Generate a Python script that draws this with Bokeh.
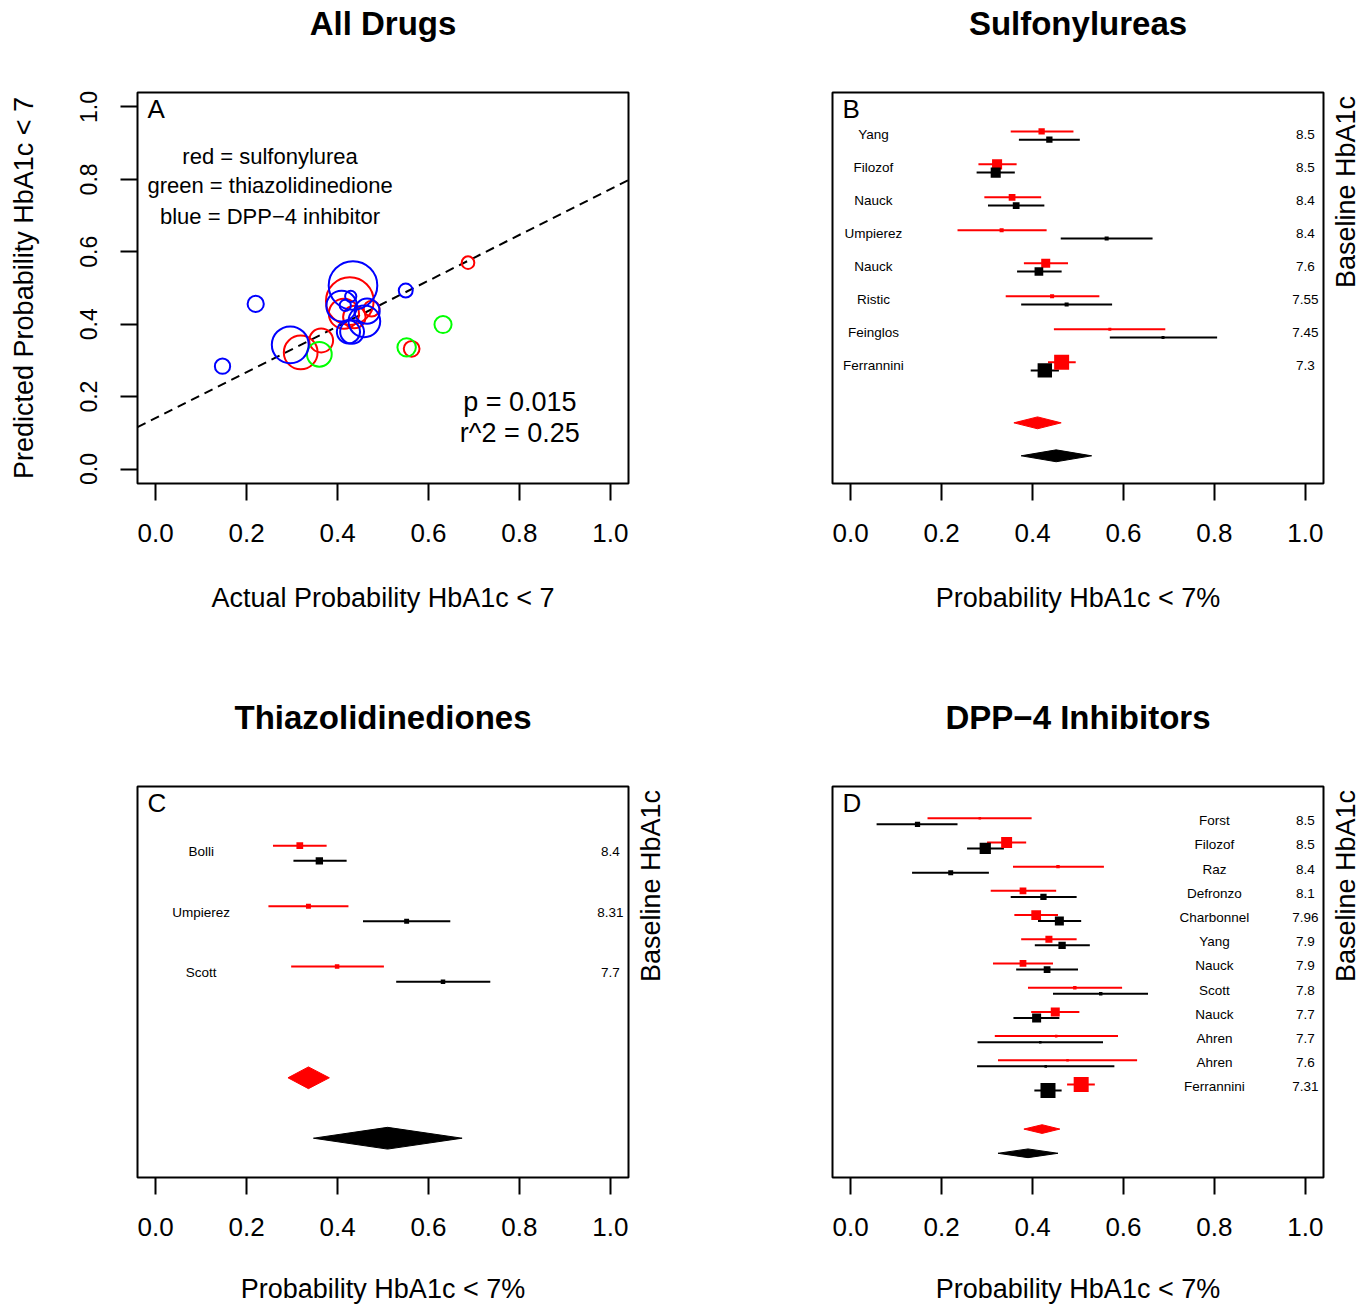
import math
from bokeh.plotting import figure
from bokeh.models import Range1d, FixedTicker, Label, Title
from bokeh.layouts import column, row
from bokeh.embed import file_html
from bokeh.resources import INLINE
from bokeh.core.properties import value

FONT = "Liberation Sans"
MINUS = "\u2212"

# ---------------- data ----------------
x_ticks = [0.0, 0.2, 0.4, 0.6, 0.8, 1.0]
x_tick_labels = ["0.0", "0.2", "0.4", "0.6", "0.8", "1.0"]
y_ticks = [0.0, 0.2, 0.4, 0.6, 0.8, 1.0]
y_tick_labels = ["0.0", "0.2", "0.4", "0.6", "0.8", "1.0"]

panel_titles = ["All Drugs", "Sulfonylureas", "Thiazolidinediones", "DPP" + MINUS + "4 Inhibitors"]

# Sulfonylureas
sulf_names = ["Yang", "Filozof", "Nauck", "Umpierez", "Nauck", "Ristic", "Feinglos", "Ferrannini"]
sulf_baseline = ["8.5", "8.5", "8.4", "8.4", "7.6", "7.55", "7.45", "7.3"]
sulf_pred = [0.420, 0.322, 0.355, 0.332, 0.429, 0.443, 0.570, 0.464]
sulf_pred_lo = [0.352, 0.281, 0.294, 0.235, 0.381, 0.341, 0.447, 0.434]
sulf_pred_hi = [0.490, 0.365, 0.419, 0.431, 0.478, 0.547, 0.692, 0.495]
sulf_act = [0.437, 0.319, 0.364, 0.563, 0.414, 0.475, 0.687, 0.427]
sulf_act_lo = [0.370, 0.277, 0.302, 0.462, 0.366, 0.375, 0.570, 0.396]
sulf_act_hi = [0.504, 0.361, 0.426, 0.664, 0.464, 0.575, 0.806, 0.458]
sulf_pred_w = [0.42, 0.67, 0.45, 0.27, 0.60, 0.27, 0.20, 1.00]
sulf_act_w = [0.42, 0.67, 0.45, 0.27, 0.58, 0.27, 0.20, 0.96]
sulf_pool_pred = [0.411, 0.359, 0.463]
sulf_pool_act = [0.452, 0.375, 0.530]

# Thiazolidinediones
tzd_names = ["Bolli", "Umpierez", "Scott"]
tzd_baseline = ["8.4", "8.31", "7.7"]
tzd_pred = [0.317, 0.336, 0.399]
tzd_pred_lo = [0.258, 0.248, 0.298]
tzd_pred_hi = [0.376, 0.424, 0.502]
tzd_act = [0.360, 0.552, 0.632]
tzd_act_lo = [0.303, 0.456, 0.529]
tzd_act_hi = [0.420, 0.648, 0.736]
tzd_pred_w = [0.45, 0.33, 0.30]
tzd_act_w = [0.49, 0.33, 0.30]
tzd_pool_pred = [0.336, 0.291, 0.382]
tzd_pool_act = [0.510, 0.347, 0.674]

# DPP-4 inhibitors
dpp_names = ["Forst", "Filozof", "Raz", "Defronzo", "Charbonnel", "Yang", "Nauck",
             "Scott", "Nauck", "Ahren", "Ahren", "Ferrannini"]
dpp_baseline = ["8.5", "8.5", "8.4", "8.1", "7.96", "7.9", "7.9", "7.8", "7.7", "7.7", "7.6", "7.31"]
dpp_pred = [0.284, 0.343, 0.456, 0.379, 0.408, 0.436, 0.379, 0.493, 0.450, 0.452, 0.477, 0.507]
dpp_pred_lo = [0.169, 0.300, 0.357, 0.308, 0.360, 0.375, 0.313, 0.390, 0.397, 0.317, 0.324, 0.476]
dpp_pred_hi = [0.398, 0.386, 0.557, 0.452, 0.456, 0.497, 0.445, 0.597, 0.503, 0.588, 0.630, 0.537]
dpp_act = [0.147, 0.296, 0.220, 0.424, 0.459, 0.465, 0.432, 0.550, 0.409, 0.417, 0.429, 0.434]
dpp_act_lo = [0.057, 0.256, 0.135, 0.352, 0.412, 0.405, 0.364, 0.445, 0.358, 0.279, 0.278, 0.404]
dpp_act_hi = [0.235, 0.337, 0.304, 0.497, 0.507, 0.526, 0.500, 0.654, 0.459, 0.555, 0.580, 0.464]
dpp_pred_w = [0.17, 0.73, 0.23, 0.45, 0.65, 0.47, 0.45, 0.23, 0.60, 0.17, 0.17, 1.00]
dpp_act_w = [0.35, 0.75, 0.33, 0.42, 0.60, 0.49, 0.45, 0.23, 0.60, 0.17, 0.17, 1.00]
dpp_pool_pred = [0.421, 0.381, 0.460]
dpp_pool_act = [0.390, 0.324, 0.456]

# regression in panel A
fit_intercept = 0.141
fit_slope = 0.632
fit_p_text = "p = 0.015"
fit_r2_text = "r^2 = 0.25"
legend_lines = ["red = sulfonylurea", "green = thiazolidinedione", "blue = DPP" + MINUS + "4 inhibitor"]

# ---------------- helpers ----------------
FW, FH = 491, 391
BOX_PX = 15.0  # box side of the heaviest study


def make_fig(title, y_range, left, right, top, bottom, y_loc):
    p = figure(frame_width=FW, frame_height=FH, x_range=Range1d(-0.04, 1.04), y_range=y_range,
               output_backend="svg", toolbar_location=None, title=None,
               min_border_left=left, min_border_right=right,
               min_border_top=top, min_border_bottom=bottom,
               y_axis_location=y_loc, background_fill_color="white", border_fill_color="white")
    p.grid.visible = False
    p.outline_line_color = "black"
    p.outline_line_width = 2
    p.outline_line_alpha = 1.0
    # spacer between frame and title, then the title itself (stacked outward)
    p.add_layout(Title(text=" ", text_font_size="1px", standoff=46), "above")
    p.add_layout(Title(text=title, align="center", text_font=FONT, text_font_size="33px",
                       text_font_style="bold", text_color="black", standoff=4), "above")
    return p


def style_xaxis(p, label, label_standoff):
    ax = p.xaxis[0]
    ax.ticker = FixedTicker(ticks=x_ticks)
    ax.major_label_overrides = {t: s for t, s in zip(x_ticks, x_tick_labels)}
    ax.major_tick_out = 17
    ax.major_tick_in = 0
    ax.minor_tick_out = 0
    ax.minor_tick_in = 0
    ax.major_tick_line_width = 2
    ax.major_tick_line_color = "black"
    ax.axis_line_color = None
    ax.major_label_text_font = FONT
    ax.major_label_text_font_size = "26px"
    ax.major_label_text_color = "black"
    ax.major_label_standoff = 23
    ax.axis_label = label
    ax.axis_label_text_font = FONT
    ax.axis_label_text_font_size = "27px"
    ax.axis_label_text_font_style = "normal"
    ax.axis_label_text_color = "black"
    ax.axis_label_standoff = label_standoff


def style_right_label(p):
    ax = p.yaxis[0]
    ax.ticker = FixedTicker(ticks=[])
    ax.major_tick_out = 0
    ax.major_tick_in = 0
    ax.minor_tick_out = 0
    ax.minor_tick_in = 0
    ax.axis_line_color = None
    ax.major_label_standoff = 0
    ax.axis_label = "Baseline HbA1c"
    ax.axis_label_text_font = FONT
    ax.axis_label_text_font_size = "27px"
    ax.axis_label_text_font_style = "normal"
    ax.axis_label_text_color = "black"
    ax.axis_label_standoff = 22
    ax.axis_label_orientation = math.pi / 2


def panel_letter(p, letter, x0, ytop, ppu, inverted):
    dy = 1.5 / ppu
    y = ytop + dy if inverted else ytop - dy
    p.add_layout(Label(x=x0 + 10.0 / 455.0, y=y, text=letter, text_font=FONT,
                       text_font_size="26px", text_color="black",
                       text_align="left", text_baseline="top"))


def forest(p, names, base, pe, pl, ph, ae, al, ah, pw, aw, pool_p, pool_a, name_x):
    n = len(names)
    rows = [float(i) for i in range(n)]
    rows_b = [r + 0.25 for r in rows]
    p.segment(x0=pl, y0=rows, x1=ph, y1=rows, line_color="red", line_width=2)
    p.segment(x0=al, y0=rows_b, x1=ah, y1=rows_b, line_color="black", line_width=2)
    p.scatter(x=pe, y=rows, size=[BOX_PX * w for w in pw], marker="square",
              fill_color="red", line_color=None)
    p.scatter(x=ae, y=rows_b, size=[BOX_PX * w for w in aw], marker="square",
              fill_color="black", line_color=None)
    h = 0.18
    for pool, yd, col in ((pool_p, n + 0.84, "red"), (pool_a, n + 1.84, "black")):
        est, lo, hi = pool
        p.patch([lo, est, hi, est], [yd, yd - h, yd, yd + h], fill_color=col, line_color=col, line_width=1)
    ty = [r + 0.1 for r in rows]
    p.text(x=[name_x] * n, y=ty, text=names, text_align="center", text_baseline="middle",
           text_font=value(FONT), text_font_size="13.5px", text_color="black")
    p.text(x=[1.0] * n, y=ty, text=base, text_align="center", text_baseline="middle",
           text_font=value(FONT), text_font_size="13.5px", text_color="black")


# ---------------- panel A ----------------
A_PPU = FH / 1.08
pA = make_fig(panel_titles[0], Range1d(-0.04, 1.04), 137, 57, 92, 211, "left")
style_xaxis(pA, "Actual Probability HbA1c < 7", 38)
ay = pA.yaxis[0]
ay.ticker = FixedTicker(ticks=y_ticks)
ay.major_label_overrides = {t: s for t, s in zip(y_ticks, y_tick_labels)}
ay.major_tick_out = 17
ay.major_tick_in = 0
ay.minor_tick_out = 0
ay.minor_tick_in = 0
ay.major_tick_line_width = 2
ay.major_tick_line_color = "black"
ay.axis_line_color = None
ay.major_label_text_font = FONT
ay.major_label_text_font_size = "23px"
ay.major_label_text_color = "black"
ay.major_label_orientation = "vertical"
ay.major_label_standoff = 23
ay.axis_label = "Predicted Probability HbA1c < 7"
ay.axis_label_text_font = FONT
ay.axis_label_text_font_size = "27px"
ay.axis_label_text_font_style = "normal"
ay.axis_label_text_color = "black"
ay.axis_label_standoff = 39

fx = [-0.04, 1.04]
pA.line(fx, [fit_intercept + fit_slope * x for x in fx], line_color="black",
        line_width=2, line_dash="9 6")


def circle_px(pw, aw):
    return [2 * (1.5 * BOX_PX * (a + b) / 2 + 1.8) for a, b in zip(pw, aw)]


pA.scatter(x=sulf_act, y=sulf_pred, size=circle_px(sulf_pred_w, sulf_act_w), marker="circle",
           fill_color=None, line_color="#FF0000", line_width=2)
pA.scatter(x=tzd_act, y=tzd_pred, size=circle_px(tzd_pred_w, tzd_act_w), marker="circle",
           fill_color=None, line_color="#00FF00", line_width=2)
pA.scatter(x=dpp_act, y=dpp_pred, size=circle_px(dpp_pred_w, dpp_act_w), marker="circle",
           fill_color=None, line_color="#0000FF", line_width=2)

for txt, yy in zip(legend_lines, [0.862, 0.782, 0.697]):
    pA.add_layout(Label(x=0.2516, y=yy, text=txt, text_font=FONT, text_font_size="22px",
                        text_color="black", text_align="center", text_baseline="middle"))
pA.add_layout(Label(x=0.801, y=0.185, text=fit_p_text, text_font=FONT, text_font_size="27px",
                    text_color="black", text_align="center", text_baseline="middle"))
pA.add_layout(Label(x=0.801, y=0.099, text=fit_r2_text, text_font=FONT, text_font_size="27px",
                    text_color="black", text_align="center", text_baseline="middle"))
panel_letter(pA, "A", -0.04, 1.04, A_PPU, False)

# ---------------- panel B ----------------
B_TOP, B_BOT = -1.18, 10.68
B_PPU = FH / (B_BOT - B_TOP)
pB = make_fig(panel_titles[1], Range1d(B_BOT, B_TOP), 147, 47, 92, 211, "right")
style_xaxis(pB, "Probability HbA1c < 7%", 38)
style_right_label(pB)
forest(pB, sulf_names, sulf_baseline, sulf_pred, sulf_pred_lo, sulf_pred_hi,
       sulf_act, sulf_act_lo, sulf_act_hi, sulf_pred_w, sulf_act_w,
       sulf_pool_pred, sulf_pool_act, 0.05)
panel_letter(pB, "B", -0.04, B_TOP, B_PPU, True)

# ---------------- panel C ----------------
C_TOP, C_BOT = -0.98, 5.49
C_PPU = FH / (C_BOT - C_TOP)
pC = make_fig(panel_titles[2], Range1d(C_BOT, C_TOP), 137, 57, 92, 131, "right")
style_xaxis(pC, "Probability HbA1c < 7%", 35)
style_right_label(pC)
forest(pC, tzd_names, tzd_baseline, tzd_pred, tzd_pred_lo, tzd_pred_hi,
       tzd_act, tzd_act_lo, tzd_act_hi, tzd_pred_w, tzd_act_w,
       tzd_pool_pred, tzd_pool_act, 0.10)
panel_letter(pC, "C", -0.04, C_TOP, C_PPU, True)

# ---------------- panel D ----------------
D_TOP, D_BOT = -1.31, 14.84
D_PPU = FH / (D_BOT - D_TOP)
pD = make_fig(panel_titles[3], Range1d(D_BOT, D_TOP), 147, 47, 92, 131, "right")
style_xaxis(pD, "Probability HbA1c < 7%", 35)
style_right_label(pD)
forest(pD, dpp_names, dpp_baseline, dpp_pred, dpp_pred_lo, dpp_pred_hi,
       dpp_act, dpp_act_lo, dpp_act_hi, dpp_pred_w, dpp_act_w,
       dpp_pool_pred, dpp_pool_act, 0.80)
panel_letter(pD, "D", -0.04, D_TOP, D_PPU, True)

layout = column(row(pA, pB), row(pC, pD))
open("out.html", "w").write(file_html(layout, INLINE))
